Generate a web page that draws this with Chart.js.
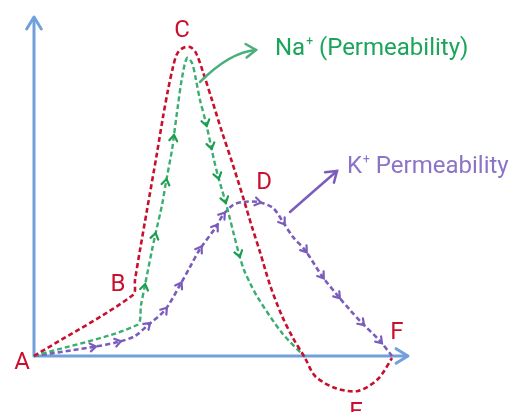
<!DOCTYPE html>
<html>
<head>
<meta charset="utf-8">
<script src="https://cdn.jsdelivr.net/npm/chart.js@4/dist/chart.umd.min.js"></script>
<style>
  html, body { margin: 0; padding: 0; background: #fff; }
  #wrap { width: 510px; height: 412px; position: relative; }
</style>
</head>
<body>
<div id="wrap"><canvas id="chart"></canvas></div>
<script>
// membrane potential (red), measured from rest at A
const potX = [0, 99, 101, 106, 113, 123, 129, 134, 139, 143, 149, 156, 162, 169, 178, 188, 198, 209, 218, 226, 236, 248, 259, 271, 281, 301, 324, 344, 358];
const potY = [0, 61, 76, 106, 146, 203, 239, 266, 289, 302, 308, 309, 303, 284, 256, 224, 194, 159, 129, 104, 71, 40, 18, -2, -20, -32, -35, -23, -2];

// Na+ permeability (green)
const naX = [0, 103, 107, 110.6, 118, 121, 128, 132, 138, 139.6, 144, 148, 153, 158, 162, 166, 172, 177, 180, 184, 188, 191, 195, 200, 205, 210, 216, 224, 248, 271];
const naY = [0, 31, 51, 69, 106, 120, 151, 174, 206, 218, 251, 278, 298, 293, 276, 256, 233, 210, 196, 180, 166, 156, 141, 121, 102, 86, 73, 58, 23, -1];
const naArrowIdx = [3, 5, 7, 9, 16, 17, 19, 21, 24];

// K+ permeability (purple)
const kX = [0, 59, 84, 101, 114, 131, 146, 156, 166, 182, 189, 199, 209, 224, 239, 249, 259, 271, 288, 304, 316, 328, 346, 358];
const kY = [0, 9, 14, 20, 31, 46, 71, 89, 107, 129, 141, 151, 154, 154, 148, 134, 119, 106, 80, 60, 46, 33, 15, 0];
const kArrowIdx = [1, 2, 4, 5, 6, 8, 9, 10, 13, 15, 17, 18, 19, 21, 22];

// axis extents
const X_MIN = -34, X_MAX = 476, Y_MIN = -56, Y_MAX = 356;
const axisLenX = 374, axisLenY = 339;

// stage letters
const stageLabels = [
  { text: 'A', x: -12, y: -7 },
  { text: 'B', x: 84, y: 71 },
  { text: 'C', x: 148, y: 325 },
  { text: 'D', x: 230, y: 173 },
  { text: 'F', x: 363, y: 23 },
  { text: 'E', x: 322, y: -57 },
];

const RED = '#c8102e';
const GREEN = '#3aad71';
const GREEN_DARK = '#1c9e50';
const GREEN_TEXT = '#1aa55a';
const PURPLE = '#7a5cbd';
const PURPLE_TEXT = '#8b74c7';
const BLUE = '#72a0da';
const FONT = 'Roboto, "Open Sans", sans-serif';

const toPts = (xs, ys) => xs.map((x, i) => ({ x, y: ys[i] }));

function arrowHead(ctx, tx, ty, ang, len, spread) {
  ctx.beginPath();
  ctx.moveTo(tx - len * Math.cos(ang - spread), ty - len * Math.sin(ang - spread));
  ctx.lineTo(tx, ty);
  ctx.lineTo(tx - len * Math.cos(ang + spread), ty - len * Math.sin(ang + spread));
  ctx.stroke();
}

const axesPlugin = {
  id: 'axes',
  beforeDatasetsDraw(chart) {
    const { ctx, scales: { x, y } } = chart;
    const ox = x.getPixelForValue(0), oy = y.getPixelForValue(0);
    const top = y.getPixelForValue(axisLenY), right = x.getPixelForValue(axisLenX);
    ctx.save();
    ctx.strokeStyle = BLUE;
    ctx.lineWidth = 3;
    ctx.lineCap = 'round';
    ctx.lineJoin = 'round';
    ctx.beginPath();
    ctx.moveTo(ox, oy); ctx.lineTo(ox, top + 1);
    ctx.moveTo(ox, oy); ctx.lineTo(right - 1, oy);
    ctx.stroke();
    arrowHead(ctx, ox, top, -Math.PI / 2, 14, 0.55);
    arrowHead(ctx, right, oy, 0, 14, 0.55);
    ctx.restore();
  }
};

const chevronPlugin = {
  id: 'chevrons',
  afterDatasetsDraw(chart) {
    const { ctx } = chart;
    chart.data.datasets.forEach((ds, di) => {
      if (!ds.arrowIdx) return;
      const pts = chart.getDatasetMeta(di).data;
      ctx.save();
      ctx.strokeStyle = ds.arrowColor;
      ctx.lineWidth = 2.2;
      ctx.lineCap = 'round';
      ds.arrowIdx.forEach(i => {
        const a = pts[i - 1], b = pts[i + 1], p = pts[i];
        const ang = Math.atan2(b.y - a.y, b.x - a.x);
        arrowHead(ctx, p.x + 3 * Math.cos(ang), p.y + 3 * Math.sin(ang), ang, 7, 0.6);
      });
      ctx.restore();
    });
  }
};

const labelPlugin = {
  id: 'labels',
  afterDraw(chart) {
    const { ctx, scales: { x, y } } = chart;
    const px = v => x.getPixelForValue(v), py = v => y.getPixelForValue(v);
    ctx.save();

    // stage letters
    ctx.fillStyle = RED;
    ctx.font = '24px ' + FONT;
    ctx.textAlign = 'center';
    ctx.textBaseline = 'middle';
    stageLabels.forEach(l => ctx.fillText(l.text, px(l.x), py(l.y)));

    // Na+ pointer
    ctx.strokeStyle = '#4aaf7d';
    ctx.lineWidth = 2.5;
    ctx.lineCap = 'round';
    ctx.beginPath();
    ctx.moveTo(px(166), py(274));
    ctx.quadraticCurveTo(px(196), py(304), px(222), py(306));
    ctx.stroke();
    arrowHead(ctx, px(222), py(306), Math.atan2(py(306) - py(304), px(222) - px(196)), 12, 0.6);

    // K+ pointer
    ctx.strokeStyle = '#7a5cbd';
    ctx.beginPath();
    ctx.moveTo(px(256), py(144));
    ctx.quadraticCurveTo(px(281), py(166), px(303), py(185));
    ctx.stroke();
    arrowHead(ctx, px(303), py(185), Math.atan2(py(185) - py(166), px(303) - px(281)), 12, 0.6);

    // series names with superscript ion charge
    const ionLabel = (ion, rest, lx, ly, color) => {
      ctx.fillStyle = color;
      ctx.textAlign = 'left';
      ctx.textBaseline = 'alphabetic';
      ctx.font = '24px ' + FONT;
      let cx = px(lx);
      const by = py(ly);
      ctx.fillText(ion, cx, by);
      cx += ctx.measureText(ion).width + 1;
      ctx.font = '12px ' + FONT;
      ctx.fillText('+', cx, by - 10);
      cx += ctx.measureText('+').width;
      ctx.font = '24px ' + FONT;
      ctx.fillText(rest, cx, by);
    };
    ionLabel('Na', ' (Permeability)', 241, 301, GREEN_TEXT);
    ionLabel('K', ' Permeability', 313, 183, PURPLE_TEXT);

    ctx.restore();
  }
};

new Chart(document.getElementById('chart'), {
  type: 'scatter',
  data: {
    datasets: [
      { data: toPts(potX, potY), showLine: true, borderColor: RED, borderWidth: 2.6, borderDash: [5, 3], pointRadius: 0, tension: 0.3 },
      { data: toPts(naX, naY), showLine: true, borderColor: GREEN, borderWidth: 2.4, borderDash: [5, 3], pointRadius: 0, tension: 0.3, arrowIdx: naArrowIdx, arrowColor: GREEN_DARK },
      { data: toPts(kX, kY), showLine: true, borderColor: PURPLE, borderWidth: 2.6, borderDash: [5, 3], pointRadius: 0, tension: 0.3, arrowIdx: kArrowIdx, arrowColor: PURPLE },
    ]
  },
  options: {
    responsive: true,
    maintainAspectRatio: false,
    animation: false,
    layout: { padding: 0 },
    plugins: { legend: { display: false }, tooltip: { enabled: false } },
    scales: {
      x: { type: 'linear', min: X_MIN, max: X_MAX, display: false },
      y: { type: 'linear', min: Y_MIN, max: Y_MAX, display: false },
    }
  },
  plugins: [axesPlugin, chevronPlugin, labelPlugin]
});
</script>
</body>
</html>
